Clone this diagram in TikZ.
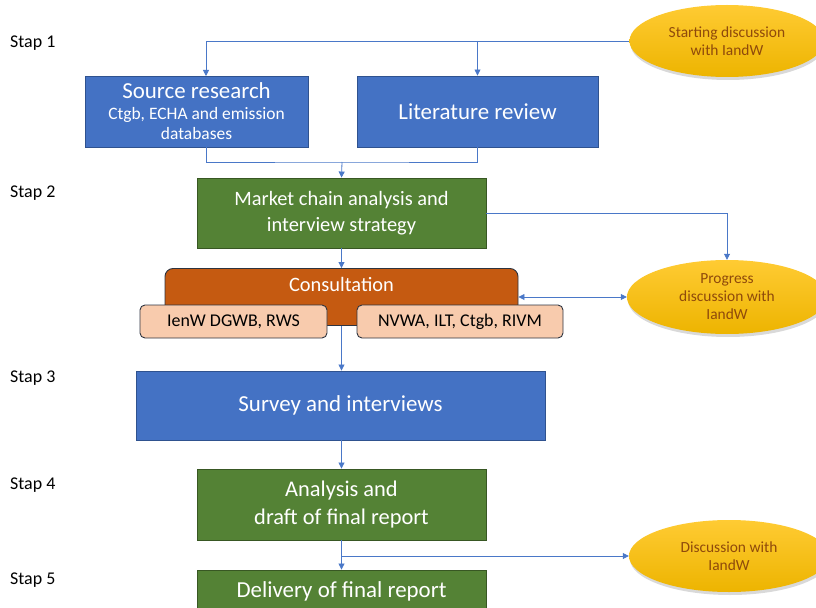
\documentclass[tikz,border=0pt]{standalone}
\usepackage{fontspec}
\setmainfont{Carlito}
\usetikzlibrary{positioning,shapes.geometric,shadows,arrows.meta}

\definecolor{boxblue}{HTML}{4472C4}
\definecolor{blueedge}{HTML}{2F528F}
\definecolor{boxgreen}{HTML}{548235}
\definecolor{greenedge}{HTML}{385723}
\definecolor{boxrust}{HTML}{C55A11}
\definecolor{boxpeach}{HTML}{F8CBAD}
\definecolor{darkedge}{HTML}{2E3440}
\definecolor{goldtop}{HTML}{FFCB33}
\definecolor{goldbot}{HTML}{EDB400}
\definecolor{talkbrown}{HTML}{8F4A0B}
\definecolor{wire}{HTML}{4A78C8}

\tikzset{
  bluebox/.style={draw=blueedge, fill=boxblue, text=white, line width=0.9bp,
    align=center, inner sep=0pt},
  greenbox/.style={draw=greenedge, fill=boxgreen, text=white, line width=0.9bp,
    align=center, inner sep=0pt},
  peachbox/.style={draw=darkedge, fill=boxpeach, text=black, line width=0.9bp,
    rounded corners=5bp, minimum height=33bp, inner sep=0pt,
    font=\fontsize{18}{20}\selectfont},
  talk/.style={ellipse, top color=goldtop, bottom color=goldbot, draw=none,
    text=talkbrown, align=center, inner sep=0pt,
    drop shadow={shadow xshift=1bp, shadow yshift=-3bp, opacity=0.3},
    font=\fontsize{15.5}{18}\selectfont},
  stap/.style={anchor=west, inner sep=0pt, font=\fontsize{18}{20}\selectfont},
  wireline/.style={draw=wire, line width=0.8bp},
  link/.style={wireline, -{Triangle[length=6bp,width=6bp]}},
  duplex/.style={wireline, {Triangle[length=6bp,width=6bp]}-{Triangle[length=6bp,width=6bp]}}
}

\begin{document}
\begin{tikzpicture}[x=1bp,y=-1bp]
  \clip (0,0) rectangle (816,608);
  %%%%% STEPS %%%%%
  \node[stap] (stap1) at (10,43) {Stap 1};
  \node[stap] (stap2) at (10,193) {Stap 2};
  \node[stap] (stap3) at (10,378) {Stap 3};
  \node[stap] (stap4) at (10,485) {Stap 4};
  \node[stap] (stap5) at (10,580) {Stap 5};

  %%%%% TALKS WITH IandW %%%%%
  \node[talk, minimum width=195bp, minimum height=72bp] (start) at (727,41)
    {Starting discussion\\with IandW};
  \node[talk, minimum width=200bp, minimum height=74bp] (progress) at (727,297)
    {Progress\\discussion with\\IandW};
  \node[talk, minimum width=200bp, minimum height=72bp] (final) at (729,556)
    {Discussion with\\IandW};

  %%%%% BOXES %%%%%
  \node[bluebox, minimum width=223bp, minimum height=71bp,
    font=\fontsize{17.5}{20}\selectfont] (source) at (196.5,111.5)
    {{\fontsize{23}{24}\selectfont Source research}\\[1bp]
     Ctgb, ECHA and emission\\databases};
  \node[bluebox, minimum width=241bp, minimum height=71bp,
    font=\fontsize{23}{26}\selectfont] (review) at (477.5,111.5) {Literature review};

  \node[greenbox, minimum width=289bp, minimum height=70bp,
    font=\fontsize{20.5}{26}\selectfont] (market) at (341.5,213)
    {Market chain analysis and\\interview strategy};

  \node[draw=darkedge, fill=boxrust, text=white, line width=0.9bp,
    rounded corners=8bp, minimum width=353bp, inner xsep=0pt, inner ysep=8bp,
    text height=15bp, text depth=26bp, font=\fontsize{20.5}{22}\selectfont]
    (consult) at (341.5,297) {Consultation};
  \node[peachbox, minimum width=187bp] (ienw) at (233.5,321.5) {IenW DGWB, RWS};
  \node[peachbox, minimum width=206bp] (nvwa) at (460,321.5) {NVWA, ILT, Ctgb, RIVM};

  \node[bluebox, minimum width=409bp, minimum height=69bp,
    font=\fontsize{23}{26}\selectfont] (survey) at (340.5,405.5) {Survey and interviews};

  \node[greenbox, minimum width=289bp, minimum height=71bp,
    font=\fontsize{22.5}{28}\selectfont] (analysis) at (341.5,504.5)
    {Analysis and\\draft of final report};
  \node[greenbox, minimum width=289bp, minimum height=42bp,
    font=\fontsize{23}{26}\selectfont] (delivery) at (341.5,591)
    {Delivery of final report};

  %%%%% CONNECTORS %%%%%
  \coordinate (srcin) at (206,76);
  \coordinate (merge) at (342,162);
  \draw[link] (start.west) -| (srcin);
  \draw[link] (start.west -| review.north) -- (review.north);
  \draw[wireline] (srcin |- source.south) |- (merge) -| (review.south);
  \draw[link] (merge) -- (market.north);
  \draw[link] (market.east) -| (progress.north);
  \draw[link] (market.south) -- (consult.north);
  \draw[duplex] (consult.east) -- (progress.west);
  \draw[link] (consult.south) -- (consult.south |- survey.north);
  \draw[link] (analysis.north |- survey.south) -- (analysis.north);
  \draw[link] (analysis.south) -- (delivery.north);
  \draw[link] (analysis.south |- final.west) -- (final.west);
\end{tikzpicture}
\end{document}
